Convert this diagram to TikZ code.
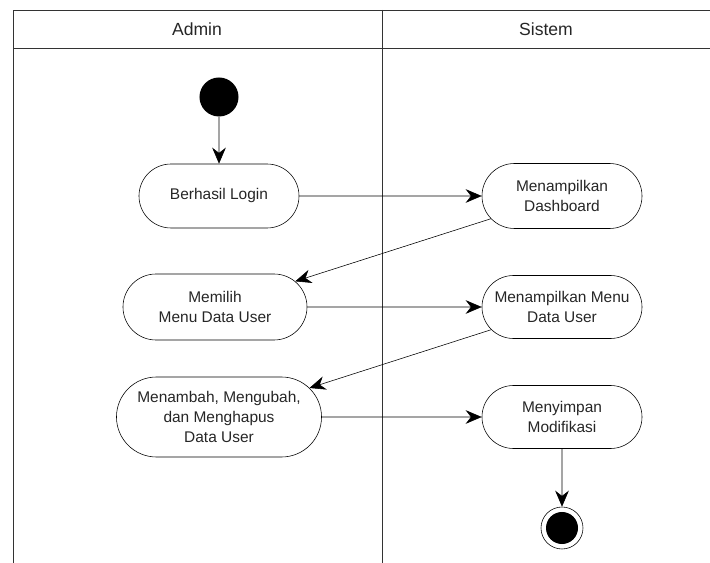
\documentclass[tikz,border=0pt]{standalone}
\usepackage{fontspec}
\setmainfont{Liberation Sans}
\usetikzlibrary{
  arrows.meta,
  shapes.misc   % Shape "rounded rectangle"
}
\def\mytextcol{black!85}
\def\myxsep{14pt}
\tikzset{
  line width=1.2pt,
  >={Stealth[length=4mm,width=3.4mm,inset=1.3mm]},
  lane/.style={
    draw=black!80
  },
  lane title/.style={
    font=\fontsize{12.5}{15}\selectfont,
    text=\mytextcol
  },
  activity/.style={
    draw,
    rounded rectangle,
    align=center,
    inner xsep=-\myxsep,
    minimum height=1.6cm,
    activity width=4cm,
    font=\fontsize{11}{14}\selectfont,
    text=\mytextcol
  },
  % total width of an activity (the negative xsep is taken off)
  activity width/.style={
    minimum width=#1-2*\myxsep
  },
  start state/.style={
    circle,
    fill=black,
    inner sep=0pt,
    minimum size=0.975cm
  },
  end state/.style={
    circle,
    draw,
    inner sep=0pt,
    minimum size=1.05cm,
    path picture={\fill (path picture bounding box.center) circle (0.4cm);}
  }
}

\begin{document}
\begin{tikzpicture}[x=0.025cm,y=-0.025cm]
\useasboundingbox (0,0) rectangle (710,563);
% swimlanes
\draw[lane] (13,563) -- (13,10) -- (710,10);
\draw[lane] (13,48) -- (710,48);
\draw[lane] (382,10) -- (382,563);
\node[lane title] (admin) at (197,29) {Admin};
\node[lane title] (sistem) at (546,29) {Sistem};
% activities
\node[start state] (start) at (219,97) {};
\node[activity] (login) at (219,196) {Berhasil Login};
\node[activity,minimum height=1.625cm] (dash) at (562,196) {Menampilkan\\Dashboard};
\node[activity,activity width=4.6cm,minimum height=1.65cm] (pilih) at (215,307) {Memilih\\Menu Data User};
\node[activity,minimum height=1.575cm] (menu) at (562,307) {Menampilkan Menu\\Data User};
\node[activity,activity width=5.125cm,minimum height=2cm] (ubah) at (219,417) {Menambah, Mengubah,\\dan Menghapus\\Data User};
\node[activity,minimum height=1.575cm] (simpan) at (562,417) {Menyimpan\\Modifikasi};
\node[end state] (end) at (562,528) {};
% flows
\path[->] (start) edge (login)
          (login) edge (dash)
          (dash) edge (pilih)
          (pilih) edge (menu)
          (menu) edge (ubah)
          (ubah) edge (simpan)
          (simpan) edge (end);
\end{tikzpicture}
\end{document}
